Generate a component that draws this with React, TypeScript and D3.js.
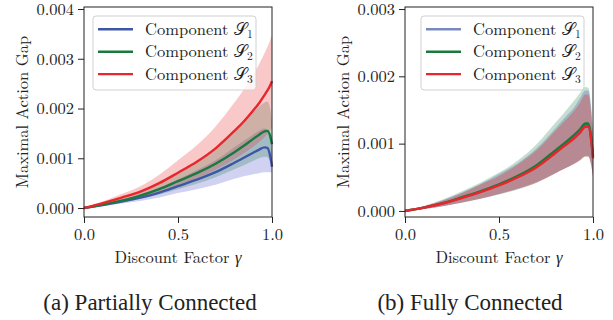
import React, { useEffect, useRef } from "react";
import * as d3 from "d3";

// discount factor grid shared by all curves
const gamma = [0, 0.1, 0.2, 0.3, 0.4, 0.5, 0.6, 0.7, 0.8, 0.85, 0.9, 0.93, 0.96, 0.975, 0.99, 1.0];

// (a) partially connected, values in units of 1e-3
const s1MeanA = [0, 0.06, 0.13, 0.21, 0.31, 0.44, 0.57, 0.72, 0.91, 1.01, 1.11, 1.17, 1.22, 1.21, 1.05, 0.83];
const s1UpA = [0, 0.08, 0.17, 0.28, 0.41, 0.58, 0.76, 0.96, 1.22, 1.35, 1.48, 1.55, 1.6, 1.58, 1.4, 1.15];
const s1LowA = [0, 0.04, 0.09, 0.14, 0.21, 0.3, 0.38, 0.47, 0.59, 0.64, 0.68, 0.7, 0.72, 0.72, 0.72, 0.72];
const s2MeanA = [0, 0.07, 0.15, 0.25, 0.38, 0.54, 0.7, 0.89, 1.12, 1.25, 1.39, 1.47, 1.54, 1.55, 1.45, 1.28];
const s2UpA = [0, 0.09, 0.2, 0.33, 0.5, 0.71, 0.93, 1.2, 1.55, 1.73, 1.93, 2.03, 2.12, 2.14, 2.0, 1.75];
const s2LowA = [0, 0.05, 0.11, 0.18, 0.27, 0.38, 0.49, 0.62, 0.78, 0.86, 0.95, 1.0, 1.03, 1.02, 0.95, 0.85];
const s3MeanA = [0, 0.1, 0.21, 0.33, 0.5, 0.71, 0.93, 1.2, 1.55, 1.74, 1.96, 2.1, 2.27, 2.36, 2.46, 2.55];
const s3UpA = [0, 0.13, 0.28, 0.44, 0.67, 0.96, 1.26, 1.64, 2.12, 2.38, 2.68, 2.88, 3.11, 3.23, 3.37, 3.48];
const s3LowA = [0, 0.07, 0.14, 0.22, 0.33, 0.46, 0.6, 0.77, 0.98, 1.1, 1.23, 1.32, 1.43, 1.49, 1.55, 1.61];

// (b) fully connected, values in units of 1e-3
const s1MeanB = [0, 0.05, 0.112, 0.195, 0.285, 0.39, 0.51, 0.665, 0.88, 0.99, 1.1, 1.19, 1.28, 1.28, 1.08, 0.8];
const s1UpB = [0, 0.07, 0.16, 0.27, 0.4, 0.55, 0.71, 0.93, 1.23, 1.39, 1.54, 1.67, 1.79, 1.79, 1.51, 1.12];
const s1LowB = [0, 0.03, 0.07, 0.125, 0.18, 0.25, 0.33, 0.43, 0.56, 0.63, 0.7, 0.76, 0.82, 0.82, 0.69, 0.51];
const s2MeanB = [0, 0.05, 0.115, 0.2, 0.29, 0.395, 0.52, 0.68, 0.9, 1.01, 1.13, 1.21, 1.3, 1.3, 1.1, 0.82];
const s2UpB = [0, 0.07, 0.17, 0.29, 0.42, 0.57, 0.75, 0.99, 1.31, 1.47, 1.64, 1.75, 1.84, 1.83, 1.55, 1.15];
const s2LowB = [0, 0.03, 0.07, 0.12, 0.18, 0.245, 0.32, 0.42, 0.56, 0.63, 0.7, 0.75, 0.81, 0.8, 0.68, 0.51];
const s3MeanB = [0, 0.05, 0.11, 0.19, 0.28, 0.38, 0.5, 0.65, 0.86, 0.97, 1.08, 1.16, 1.25, 1.25, 1.06, 0.78];
const s3UpB = [0, 0.07, 0.15, 0.26, 0.39, 0.52, 0.69, 0.9, 1.19, 1.34, 1.49, 1.6, 1.73, 1.73, 1.46, 1.08];
const s3LowB = [0, 0.03, 0.07, 0.12, 0.18, 0.25, 0.33, 0.42, 0.56, 0.63, 0.7, 0.75, 0.81, 0.81, 0.69, 0.51];

const xTicks = [0, 0.5, 1.0];
const yTicksA = [0, 0.001, 0.002, 0.003, 0.004];
const yTicksB = [0, 0.001, 0.002, 0.003];
const yLimA = [-0.00018, 0.00404];
const yLimB = [-0.00009, 0.00303];

const seriesSubs = ["1", "2", "3"];
const lineColors = ["#3f56a6", "#1a7a3e", "#e8262b"];
const bandColors = ["#5858cc", "#1a7a3e", "#e8262b"];
const captions = ["(a) Partially Connected", "(b) Fully Connected"];

const CM = "Latin Modern Roman";
const TIMES = "Nimbus Roman";
const INK = "#222";
const TOP = 7;
const BOTTOM = 217;

const Panel = ({ p }) => {
  const xAxisRef = useRef(null);
  const yAxisRef = useRef(null);
  const x = d3.scaleLinear().domain([0, 1]).range([p.left, p.right]);
  const y = d3.scaleLinear().domain(p.ylim).range([BOTTOM, TOP]);

  useEffect(() => {
    const ya = d3
      .select(yAxisRef.current)
      .call(d3.axisLeft(y).tickValues(p.yticks).tickSize(6).tickPadding(4).tickFormat(d3.format(".3f")));
    const xa = d3
      .select(xAxisRef.current)
      .call(d3.axisBottom(x).tickValues(xTicks).tickSize(6).tickPadding(5.5).tickFormat(d3.format(".1f")));
    [ya, xa].forEach((a) => {
      a.attr("font-family", null).attr("font-size", null);
      a.select(".domain").remove();
      a.selectAll("line").attr("stroke", INK);
      a.selectAll("text").attr("fill", INK).style("font-family", CM).style("font-size", "16.5px");
    });
  }, []);

  const area = d3
    .area()
    .x((d) => x(d[0]))
    .y0((d) => y(d[1] * 1e-3))
    .y1((d) => y(d[2] * 1e-3))
    .curve(d3.curveMonotoneX);
  const line = d3
    .line()
    .x((d) => x(d[0]))
    .y((d) => y(d[1] * 1e-3))
    .curve(d3.curveMonotoneX);

  return (
    <g>
      {p.series.map((s, k) => (
        <path
          key={"b" + k}
          d={area(gamma.map((gm, i) => [gm, s.low[i], s.up[i]]))}
          fill={bandColors[k]}
          fillOpacity={p.bandAlpha[k]}
        />
      ))}
      {p.series.map((s, k) => (
        <path
          key={"l" + k}
          d={line(gamma.map((gm, i) => [gm, s.mean[i]]))}
          fill="none"
          stroke={lineColors[k]}
          strokeOpacity={p.lineAlpha[k]}
          strokeWidth={2.4}
        />
      ))}
      <rect x={p.left} y={TOP} width={p.right - p.left} height={BOTTOM - TOP} fill="none" stroke={INK} />
      <g ref={yAxisRef} transform={`translate(${p.left},0)`} />
      <g ref={xAxisRef} transform={`translate(0,${BOTTOM})`} />
      <text
        transform={`translate(${p.ylabelX},${(TOP + BOTTOM) / 2}) rotate(-90)`}
        textAnchor="middle"
        dominantBaseline="central"
        fill={INK}
        style={{ fontFamily: CM, fontSize: "16.5px" }}
      >
        Maximal Action Gap
      </text>
      <text
        x={(p.left + p.right) / 2}
        y={263}
        textAnchor="middle"
        fill={INK}
        style={{ fontFamily: CM, fontSize: "16.5px" }}
      >
        Discount Factor <tspan fontStyle="italic">γ</tspan>
      </text>
      <g transform={`translate(${p.legendX},16)`}>
        <rect width={163} height={74} rx={3} fill="#fff" fillOpacity={0.8} stroke="#d0d0d0" />
        {seriesSubs.map((sub, k) => {
          const ry = 13.3 + k * 22.4;
          return (
            <g key={sub}>
              <line
                x1={5}
                x2={40}
                y1={ry}
                y2={ry}
                stroke={lineColors[k]}
                strokeOpacity={p.lineAlpha[k]}
                strokeWidth={2.4}
              />
              <text
                x={52}
                y={ry + 5.5}
                fill={INK}
                style={{ fontFamily: CM, fontSize: "16.5px" }}
              >
                Component 𝒮
                <tspan dy={3} style={{ fontSize: "11.5px" }}>
                  {sub}
                </tspan>
              </text>
            </g>
          );
        })}
      </g>
      <text
        x={p.captionX}
        y={310}
        textAnchor="middle"
        fill={INK}
        fontSize={23}
        style={{ fontFamily: TIMES }}
      >
        {p.caption}
      </text>
    </g>
  );
};

const panelA = {
  left: 84,
  right: 272,
  ylim: yLimA,
  yticks: yTicksA,
  ylabelX: 21,
  legendX: 93,
  captionX: 150,
  caption: captions[0],
  bandAlpha: [0.28, 0.25, 0.25],
  lineAlpha: [1, 1, 1],
  series: [
    { mean: s1MeanA, up: s1UpA, low: s1LowA },
    { mean: s2MeanA, up: s2UpA, low: s2LowA },
    { mean: s3MeanA, up: s3UpA, low: s3LowA },
  ],
};

const panelB = {
  left: 405,
  right: 593,
  ylim: yLimB,
  yticks: yTicksB,
  ylabelX: 342,
  legendX: 421,
  captionX: 470,
  caption: captions[1],
  bandAlpha: [0.3, 0.25, 0.32],
  lineAlpha: [0.7, 1, 1],
  series: [
    { mean: s1MeanB, up: s1UpB, low: s1LowB },
    { mean: s2MeanB, up: s2UpB, low: s2LowB },
    { mean: s3MeanB, up: s3UpB, low: s3LowB },
  ],
};

const App = () => (
  <svg
    width={613}
    height={320}
    style={{ position: "absolute", left: 0, top: 0, background: "#fff" }}
  >
    <Panel p={panelA} />
    <Panel p={panelB} />
  </svg>
);

export default App;
